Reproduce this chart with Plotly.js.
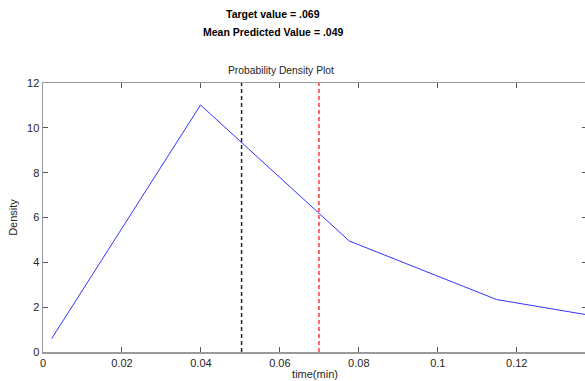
<!DOCTYPE html>
<html>
<head>
<meta charset="utf-8">
<script src="https://cdn.plot.ly/plotly-3.0.1.min.js"></script>
<style>
html,body{margin:0;padding:0;overflow:hidden;background:#fff;width:585px;height:381px;}
#chart{width:590px;height:381px;}
</style>
</head>
<body>
<div id="chart"></div>
<script>
// Density curve
const timeMin = [0.0022, 0.0399, 0.0776, 0.1149, 0.1378];
const density = [0.60, 11.02, 4.95, 2.34, 1.66];
// Reference lines
const meanPredicted = 0.0503;
const targetValue = 0.0699;
const yRange = [0, 12];
const xRange = [0, 0.1378];
const xTicks = [0, 0.02, 0.04, 0.06, 0.08, 0.1, 0.12, 0.14];
const xTickText = ['0', '0.02', '0.04', '0.06', '0.08', '0.1', '0.12', '0.14'];
const yTicks = [0, 2, 4, 6, 8, 10, 12];
const titleLines = ['Target value = .069', 'Mean Predicted Value = .049'];
const plotTitle = 'Probability Density Plot';

const traces = [
  {x: timeMin, y: density, type: 'scatter', mode: 'lines',
   line: {color: '#3333ff', width: 1}, hoverinfo: 'none'},
  {x: [meanPredicted, meanPredicted], y: yRange, type: 'scatter', mode: 'lines',
   line: {color: '#222222', width: 1.5, dash: '4px,3px'}, hoverinfo: 'none'},
  {x: [targetValue, targetValue], y: yRange, type: 'scatter', mode: 'lines',
   line: {color: '#ff3333', width: 1.5, dash: '4px,3px'}, hoverinfo: 'none'}
];

const axisCommon = {
  showgrid: false, zeroline: false, showline: true, linecolor: '#9a9a9a', linewidth: 1.5,
  ticks: 'inside', ticklen: 5, tickcolor: '#555', tickwidth: 1, mirror: 'ticks',
  tickfont: {family: 'Liberation Sans, Arial, sans-serif', size: 11, color: '#262626'}
};

const layout = {
  width: 590, height: 381,
  margin: {l: 43, r: 3, t: 83, b: 29},
  paper_bgcolor: '#fff', plot_bgcolor: '#fff',
  showlegend: false,
  font: {family: 'Liberation Sans, Arial, sans-serif', size: 11, color: '#262626'},
  xaxis: Object.assign({}, axisCommon, {
    range: xRange, tickvals: xTicks, ticktext: xTickText,
    title: {text: 'time(min)', standoff: 2, font: {size: 11, color: '#262626'}}
  }),
  yaxis: Object.assign({}, axisCommon, {
    range: yRange, tickvals: yTicks, ticktext: yTicks.map(String),
    title: {text: 'Density', standoff: 7, font: {size: 11, color: '#262626'}}
  }),
  annotations: [
    {text: '<b>' + titleLines[0] + '</b>', xref: 'paper', yref: 'paper', x: 0.4228, y: 1.2565,
     xanchor: 'center', yanchor: 'middle', showarrow: false,
     font: {family: 'Liberation Sans, Arial, sans-serif', size: 10.5, color: '#000'}},
    {text: '<b>' + titleLines[1] + '</b>', xref: 'paper', yref: 'paper', x: 0.4228, y: 1.1897,
     xanchor: 'center', yanchor: 'middle', showarrow: false,
     font: {family: 'Liberation Sans, Arial, sans-serif', size: 10.5, color: '#000'}},
    {text: plotTitle, xref: 'paper', yref: 'paper', x: 0.4366, y: 1.0483,
     xanchor: 'center', yanchor: 'middle', showarrow: false,
     font: {family: 'Liberation Sans, Arial, sans-serif', size: 10.3, color: '#262626'}}
  ]
};

Plotly.newPlot('chart', traces, layout, {staticPlot: true, displayModeBar: false});
</script>
</body>
</html>
